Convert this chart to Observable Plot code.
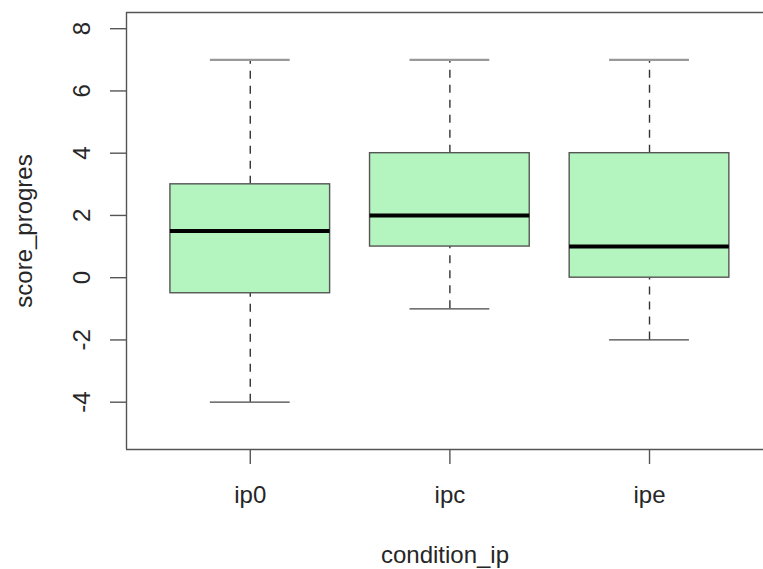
<!DOCTYPE html>
<html>
<head>
<meta charset="utf-8">
<script src="https://cdn.jsdelivr.net/npm/d3@7"></script>
<script src="https://cdn.jsdelivr.net/npm/@observablehq/plot@0.6"></script>
<style>
  html, body { margin: 0; padding: 0; background: #fff; }
  #chart svg { display: block; }
</style>
</head>
<body>
<div id="chart"></div>
<script>
const categories = ["ip0", "ipc", "ipe"];
const whiskerLow = [-4, -1, -2];
const q1 = [-0.5, 1, 0];
const median = [1.5, 2, 1];
const q3 = [3, 4, 4];
const whiskerHigh = [7, 7, 7];
const yTicks = [-4, -2, 0, 2, 4, 6, 8];
const xLabel = "condition_ip";
const yLabel = "score_progres";

const boxes = categories.map((c, i) => ({
  cat: c, pos: i + 1,
  lo: whiskerLow[i], q1: q1[i], med: median[i], q3: q3[i], hi: whiskerHigh[i]
}));

const xDomain = [0.38, 3.571];
const yDomain = [-5.52, 8.52];
const fontFamily = "'Liberation Sans', Arial, Helvetica, sans-serif";
const fs = 24;
const textColor = "#262626";

const chart = Plot.plot({
  width: 763,
  height: 569,
  marginLeft: 126,
  marginRight: 0,
  marginTop: 12,
  marginBottom: 120,
  style: { fontFamily, fontSize: fs + "px", color: textColor, background: "#fff" },
  x: { type: "linear", domain: xDomain, axis: null },
  y: { domain: yDomain, axis: null },
  marks: [
    // plot region borders (left, top, bottom; right side is off-canvas)
    Plot.ruleY(yDomain, { stroke: "#555", strokeWidth: 1.4 }),
    Plot.ruleX([xDomain[0]], { stroke: "#555", strokeWidth: 1.4 }),
    // whiskers
    Plot.ruleX(boxes, { x: "pos", y1: "q3", y2: "hi", stroke: "#333", strokeWidth: 1.4, strokeDasharray: "8,7" }),
    Plot.ruleX(boxes, { x: "pos", y1: "lo", y2: "q1", stroke: "#333", strokeWidth: 1.4, strokeDasharray: "8,7" }),
    // whisker caps
    Plot.ruleY(boxes, { y: "hi", x1: d => d.pos - 0.2, x2: d => d.pos + 0.2, stroke: "#999", strokeWidth: 2.2 }),
    Plot.ruleY(boxes, { y: "lo", x1: d => d.pos - 0.2, x2: d => d.pos + 0.2, stroke: "#444", strokeWidth: 1.3 }),
    // boxes
    Plot.rect(boxes, { x1: d => d.pos - 0.4, x2: d => d.pos + 0.4, y1: "q1", y2: "q3", fill: "#b3f4bf", stroke: "#555", strokeWidth: 1.4 }),
    // medians
    Plot.ruleY(boxes, { y: "med", x1: d => d.pos - 0.4, x2: d => d.pos + 0.4, stroke: "#000", strokeWidth: 4 }),
    // y axis ticks
    Plot.axisY({ ticks: yTicks, tickSize: 16, tickFormat: () => "", label: null, stroke: "#555", strokeWidth: 1.4 }),
    // y tick labels
    Plot.text(yTicks, { y: d => d, text: d => String(d), frameAnchor: "left", dx: -44, rotate: -90,
      textAnchor: "middle", lineAnchor: "middle", fontSize: fs, fill: textColor }),
    // x axis ticks
    Plot.axisX({ ticks: [1, 2, 3], tickSize: 15, tickFormat: () => "", label: null, stroke: "#555", strokeWidth: 1.4 }),
    // x tick labels
    Plot.text(boxes, { x: "pos", text: "cat", frameAnchor: "bottom", dy: 36,
      textAnchor: "middle", lineAnchor: "top", fontSize: fs, fill: textColor }),
    // axis titles
    Plot.text([yLabel], { frameAnchor: "left", dx: -102, rotate: -90, textAnchor: "middle", lineAnchor: "middle", fontSize: fs, fill: textColor }),
    Plot.text([xLabel], { frameAnchor: "bottom", dy: 96, textAnchor: "middle", lineAnchor: "top", fontSize: fs, fill: textColor })
  ]
});

document.getElementById("chart").appendChild(chart);
</script>
</body>
</html>
